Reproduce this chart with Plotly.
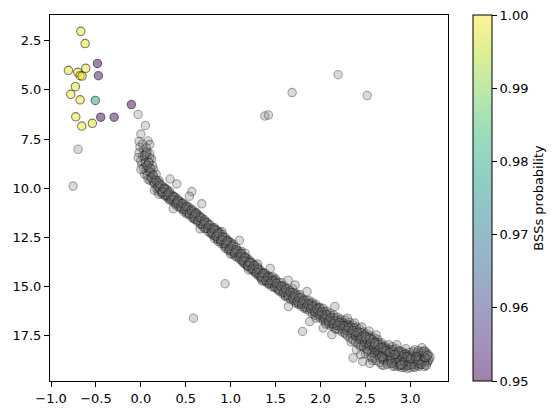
import plotly.graph_objects as go

# Blue straggler candidates (colour index, magnitude, probability)
bss_x = [-0.669, -0.621, -0.807, -0.703, -0.677, -0.655, -0.614, -0.729, -0.781,
         -0.677, -0.725, -0.658, -0.540, -0.484, -0.473, -0.106, -0.447, -0.298, -0.507]
bss_y = [2.03, 2.65, 4.01, 4.11, 4.28, 4.30, 3.91, 4.84, 5.23,
         5.51, 6.37, 6.84, 6.70, 3.66, 4.28, 5.75, 6.39, 6.39, 5.54]
bss_p = [0.999, 0.999, 0.998, 0.999, 1.0, 0.999, 0.999, 0.998, 0.999,
         0.999, 0.999, 0.999, 0.998, 0.951, 0.952, 0.951, 0.951, 0.952, 0.977]

# Cluster members (grey points)
members = [
    # turn-off region
    (0.05, 6.81), (0.00, 7.25), (-0.02, 7.62), (0.08, 7.60), (0.10, 7.78), (-0.01, 7.9), (0.03, 8.05),
    (-0.02, 8.2), (0.05, 8.28), (0.07, 8.4), (0.12, 8.52), (0.04, 8.55), (0.01, 8.78), (0.06, 8.85),
    (0.09, 8.7), (0.08, 9.0), (0.14, 9.03), (0.04, 9.28), (0.11, 9.2), (0.13, 9.35), (0.12, 9.45),
    (0.06, 9.1), (0.10, 9.6), (0.16, 9.55), (0.15, 9.75), (0.09, 8.95), (0.02, 8.35), (0.07, 8.15),
    (0.11, 9.5), (0.18, 9.7),
    (0.02, 7.75), (0.06, 7.95), (-0.03, 8.45), (0.1, 8.25), (0.0, 8.6), (0.13, 8.85), (0.03, 9.0),
    (0.07, 9.35), (0.17, 9.3), (0.14, 9.65), (0.08, 9.55), (0.2, 9.6), (0.05, 8.7), (0.1, 8.45), (0.0, 9.05),
    # upper main sequence
    (0.18, 9.85), (0.20, 9.95), (0.22, 10.05), (0.25, 10.1), (0.19, 10.15), (0.28, 10.2), (0.24, 10.3),
    (0.30, 10.25), (0.33, 10.35), (0.27, 10.4), (0.35, 10.5), (0.31, 10.55), (0.38, 10.6), (0.36, 10.7),
    (0.42, 10.65), (0.21, 9.9), (0.17, 10.0), (0.26, 9.95), (0.29, 10.1), (0.23, 10.25), (0.34, 10.45),
    (0.40, 10.75), (0.37, 10.45), (0.32, 10.6), (0.325, 9.53), (0.40, 9.78), (0.36, 11.04), (0.15, 10.1),
    (0.20, 10.3), (0.44, 10.8),
    (0.42, 10.85), (0.45, 10.8), (0.47, 10.9), (0.50, 11.0), (0.48, 11.1), (0.53, 11.05), (0.55, 11.15),
    (0.52, 11.25), (0.58, 11.3), (0.60, 11.25), (0.57, 11.4), (0.62, 11.45), (0.64, 11.5), (0.61, 11.6),
    (0.66, 11.65), (0.68, 11.7), (0.70, 11.8), (0.67, 11.85), (0.72, 11.9), (0.74, 11.95), (0.76, 12.0),
    (0.71, 12.05), (0.78, 12.1), (0.46, 11.0), (0.51, 11.2), (0.56, 11.2), (0.63, 11.35), (0.69, 11.6),
    (0.73, 11.75), (0.567, 10.17), (0.54, 10.4), (0.678, 10.79), (0.659, 12.06), (0.49, 10.95), (0.59, 11.55),
    (0.20, 9.7), (0.21, 10.05), (0.23, 9.85), (0.24, 10.2), (0.26, 10.0), (0.27, 10.35), (0.29, 10.05),
    (0.30, 10.45), (0.32, 10.15), (0.33, 10.5), (0.35, 10.35), (0.36, 10.6), (0.38, 10.45), (0.39, 10.85),
    (0.41, 10.55), (0.42, 10.95), (0.44, 10.7), (0.45, 11.05), (0.47, 10.75), (0.48, 11.2), (0.50, 10.85),
    (0.51, 11.3), (0.53, 10.95), (0.54, 11.35), (0.56, 11.05), (0.57, 11.5), (0.59, 11.15), (0.60, 11.55),
    (0.62, 11.25), (0.63, 11.7), (0.65, 11.4), (0.66, 11.8), (0.68, 11.5), (0.69, 11.95), (0.71, 11.6),
    (0.72, 12.05), (0.74, 11.75), (0.75, 12.2), (0.77, 11.85), (0.78, 12.25), (0.80, 12.0),
    (0.30, 10.3), (0.40, 10.7), (0.50, 11.0), (0.60, 11.35), (0.70, 11.75),
    (0.79, 12.05), (0.80, 12.2), (0.82, 12.15), (0.84, 12.3), (0.81, 12.4), (0.86, 12.35), (0.88, 12.5),
    (0.85, 12.6), (0.90, 12.55), (0.92, 12.7), (0.89, 12.8), (0.94, 12.75), (0.96, 12.85), (0.93, 12.95),
    (0.98, 12.9), (1.00, 13.0), (0.97, 13.1), (1.02, 13.1), (1.04, 13.2), (1.01, 13.3), (1.06, 13.25),
    (1.08, 13.35), (1.05, 13.45), (1.10, 13.4), (0.83, 12.1), (0.87, 12.25), (0.91, 12.45), (0.95, 12.6),
    (0.99, 12.75), (1.03, 12.95), (1.07, 13.15), (0.78, 12.3), (0.86, 12.7), (0.94, 13.05), (1.0, 13.35),
    (1.097, 12.65), (0.9, 12.2), (1.12, 13.2), (0.82, 12.55), (0.97, 12.7),
    # middle main sequence
    (0.80, 12.35), (0.82, 12.0), (0.83, 12.45), (0.85, 12.15), (0.86, 12.55), (0.88, 12.25), (0.89, 12.7),
    (0.91, 12.35), (0.92, 12.8), (0.94, 12.5), (0.95, 12.95), (0.97, 12.65), (0.98, 13.15), (1.00, 12.75),
    (1.01, 13.2), (1.03, 12.85), (1.04, 13.35), (1.06, 13.0), (1.07, 13.5), (1.09, 13.2), (1.10, 13.6),
    (1.12, 13.3), (1.13, 13.75), (1.15, 13.45), (1.16, 13.85), (1.18, 13.55), (1.19, 14.0), (1.21, 13.65),
    (1.22, 14.1), (1.24, 13.8), (1.25, 14.2), (1.27, 13.9), (1.28, 14.35), (1.30, 14.05), (1.31, 14.45),
    (1.33, 14.15), (1.34, 14.6), (1.36, 14.3), (1.37, 14.7), (1.39, 14.4), (1.40, 14.8), (1.42, 14.45),
    (1.43, 14.9), (1.45, 14.55), (1.46, 15.0), (1.48, 14.65), (1.49, 15.05),
    (0.85, 12.35), (0.95, 12.75), (1.05, 13.2), (1.15, 13.6), (1.25, 14.0), (1.35, 14.4), (1.45, 14.75), (0.9, 12.6),
    (1.11, 13.5), (1.13, 13.45), (1.14, 13.6), (1.16, 13.55), (1.17, 13.7), (1.15, 13.8), (1.19, 13.75),
    (1.21, 13.85), (1.2, 13.95), (1.23, 14.0), (1.25, 13.95), (1.24, 14.1), (1.27, 14.15), (1.29, 14.1),
    (1.28, 14.25), (1.31, 14.3), (1.33, 14.25), (1.32, 14.4), (1.35, 14.45), (1.37, 14.4), (1.36, 14.55),
    (1.39, 14.6), (1.41, 14.55), (1.40, 14.7), (1.43, 14.75), (1.45, 14.7), (1.12, 13.65), (1.18, 13.9),
    (1.22, 13.75), (1.26, 14.2), (1.30, 14.0), (1.34, 14.55), (1.38, 14.3), (1.42, 14.85), (1.44, 14.07),
    (1.16, 13.3), (1.3, 13.85), (1.2, 14.15), (1.47, 14.5), (1.35, 14.7),
    (1.46, 14.8), (1.48, 14.75), (1.5, 14.85), (1.52, 14.9), (1.51, 15.0), (1.54, 14.95), (1.56, 15.05),
    (1.55, 15.15), (1.58, 15.1), (1.6, 15.2), (1.59, 15.3), (1.62, 15.25), (1.64, 15.3), (1.63, 15.4),
    (1.66, 15.35), (1.68, 15.45), (1.67, 15.55), (1.7, 15.5), (1.72, 15.55), (1.71, 15.65), (1.74, 15.6),
    (1.76, 15.7), (1.75, 15.8), (1.78, 15.75), (1.8, 15.8), (1.79, 15.9), (1.82, 15.85), (1.84, 15.9),
    (1.5, 14.6), (1.57, 14.8), (1.64, 14.67), (1.69, 15.1), (1.717, 14.92), (1.77, 15.4), (1.85, 15.25),
    (1.53, 15.2), (1.61, 15.5), (1.643, 16.01), (1.73, 15.85), (1.83, 16.05),
    (1.50, 14.7), (1.52, 15.1), (1.54, 14.8), (1.55, 15.25), (1.57, 14.95), (1.58, 15.35), (1.60, 15.0),
    (1.61, 15.45), (1.63, 15.1), (1.64, 15.55), (1.66, 15.2), (1.67, 15.65), (1.69, 15.3), (1.70, 15.7),
    (1.72, 15.35), (1.73, 15.8), (1.75, 15.45), (1.76, 15.9), (1.78, 15.55), (1.79, 16.0), (1.81, 15.65),
    (1.82, 16.1), (1.84, 15.7), (1.85, 16.15), (1.87, 15.8), (1.88, 16.25), (1.90, 15.85), (1.91, 16.35),
    (1.93, 15.95), (1.94, 16.45), (1.96, 16.05), (1.97, 16.5), (1.99, 16.1), (2.00, 16.6), (2.02, 16.2),
    (2.03, 16.7), (2.05, 16.3), (2.06, 16.8), (2.08, 16.4), (2.09, 16.9), (2.11, 16.45), (2.12, 17.0),
    (2.14, 16.55), (2.15, 17.05), (2.17, 16.6), (2.18, 17.15), (2.20, 16.7), (2.21, 17.2), (2.23, 16.75),
    (2.24, 17.3), (2.26, 16.85), (2.27, 17.35), (2.29, 16.9),
    (1.6, 15.2), (1.7, 15.5), (1.8, 15.8), (1.9, 16.05), (2.0, 16.35), (2.1, 16.65), (2.2, 16.9),
    (1.86, 15.95), (1.88, 15.9), (1.9, 16.0), (1.89, 16.1), (1.92, 16.05), (1.94, 16.15), (1.93, 16.25),
    (1.96, 16.2), (1.98, 16.3), (1.97, 16.4), (2.0, 16.35), (2.02, 16.4), (2.01, 16.5), (2.04, 16.45),
    (2.06, 16.55), (2.05, 16.65), (2.08, 16.6), (2.1, 16.7), (2.09, 16.8), (2.12, 16.75), (2.14, 16.8),
    (2.13, 16.9), (2.16, 16.85), (2.18, 16.95), (2.2, 16.9), (2.22, 17.0), (2.24, 16.95), (1.87, 15.7),
    (1.91, 15.8), (1.95, 15.9), (1.99, 16.05), (2.03, 16.1), (2.07, 16.25), (2.11, 16.35), (2.15, 16.45),
    (2.19, 16.55), (2.23, 16.65), (1.88, 16.77), (1.80, 17.27), (2.126, 17.44), (2.03, 17.1), (1.95, 16.6),
    (2.06, 16.9), (2.17, 17.15), (2.16, 16.0),
    # lower main sequence
    (2.25, 16.85), (2.27, 16.95), (2.26, 17.05), (2.29, 17.0), (2.31, 17.1), (2.3, 17.2), (2.33, 17.15),
    (2.35, 17.25), (2.34, 17.35), (2.37, 17.3), (2.39, 17.4), (2.38, 17.5), (2.41, 17.45), (2.43, 17.55),
    (2.42, 17.65), (2.45, 17.6), (2.47, 17.7), (2.46, 17.8), (2.49, 17.75), (2.51, 17.85), (2.5, 17.95),
    (2.53, 17.9), (2.55, 17.95), (2.54, 18.05), (2.57, 18.0), (2.59, 18.1), (2.58, 18.2), (2.61, 18.15),
    (2.63, 18.2), (2.62, 18.3), (2.65, 18.25), (2.67, 18.35), (2.66, 18.45), (2.69, 18.4),
    (2.28, 16.7), (2.32, 16.8), (2.36, 16.95), (2.4, 17.05), (2.44, 17.15), (2.48, 17.3), (2.52, 17.4),
    (2.56, 17.5), (2.6, 17.6), (2.64, 17.7), (2.68, 17.85), (2.3, 16.6), (2.38, 16.85), (2.46, 17.05),
    (2.54, 17.25), (2.62, 17.45),
    (2.28, 17.4), (2.363, 18.62), (2.47, 18.79), (2.4, 18.2), (2.34, 17.8), (2.5, 18.4), (2.56, 18.55),
    (2.44, 18.0), (2.6, 18.65), (2.68, 18.96), (2.52, 18.2),
    (2.30, 17.5), (2.31, 16.95), (2.33, 17.6), (2.34, 17.05), (2.36, 17.7), (2.37, 17.1), (2.39, 17.8),
    (2.40, 17.2), (2.42, 17.9), (2.43, 17.3), (2.45, 18.0), (2.46, 17.35), (2.48, 18.05), (2.49, 17.45),
    (2.51, 18.15), (2.52, 17.55), (2.54, 18.25), (2.55, 17.6), (2.57, 18.35), (2.58, 17.7), (2.60, 18.4),
    (2.61, 17.8), (2.63, 18.5), (2.64, 17.85), (2.66, 18.6), (2.67, 17.95), (2.69, 18.7), (2.70, 18.05),
    (2.72, 18.75), (2.73, 18.1), (2.75, 18.8), (2.76, 18.2), (2.78, 18.85), (2.79, 18.3), (2.81, 18.9),
    (2.82, 18.35), (2.84, 18.95), (2.85, 18.45), (2.87, 19.0), (2.88, 18.5), (2.90, 18.6), (2.91, 18.3),
    (2.93, 18.7), (2.94, 18.4), (2.96, 18.75), (2.97, 18.5), (2.99, 18.8), (3.00, 18.55), (3.02, 18.9),
    (3.03, 18.6), (3.05, 18.95), (3.06, 18.6), (3.08, 19.0), (3.09, 18.55), (3.11, 18.95), (3.13, 18.5),
    (3.15, 18.9), (3.17, 18.45), (3.19, 18.85), (3.21, 18.7),
    (2.35, 17.3), (2.45, 17.6), (2.55, 17.9), (2.65, 18.15), (2.75, 18.4), (2.85, 18.6), (2.95, 18.7),
    (3.05, 18.75), (2.6, 18.0), (2.7, 18.25), (2.8, 18.5), (2.9, 18.65), (3.0, 18.75), (3.1, 18.8),
    (2.58, 18.75), (2.7, 19.0), (2.93, 19.1), (3.16, 19.05), (2.45, 18.45), (2.55, 18.9),
    (2.7, 18.3), (2.72, 18.45), (2.71, 18.55), (2.74, 18.4), (2.76, 18.5), (2.75, 18.6), (2.78, 18.55),
    (2.8, 18.65), (2.79, 18.75), (2.82, 18.6), (2.84, 18.7), (2.83, 18.8), (2.86, 18.75), (2.88, 18.85),
    (2.87, 18.95), (2.9, 18.8), (2.92, 18.9), (2.91, 19.0), (2.94, 18.85), (2.96, 18.95), (2.95, 19.05),
    (2.98, 18.9), (3.0, 19.0), (2.99, 18.75), (3.02, 18.85), (3.04, 18.95), (3.03, 18.7), (3.06, 18.8),
    (3.08, 18.9), (3.07, 18.65), (3.1, 18.75), (3.12, 18.85), (3.11, 18.6), (3.14, 18.7), (3.16, 18.8),
    (3.15, 18.55), (3.18, 18.65), (3.2, 18.75), (3.22, 18.57), (3.165, 18.96),
    (2.72, 18.0), (2.74, 18.15), (2.76, 17.95), (2.78, 18.2), (2.8, 18.05), (2.82, 18.3), (2.84, 18.15),
    (2.86, 18.4), (2.88, 18.25), (2.9, 18.5), (2.92, 18.35), (2.94, 18.55), (2.96, 18.45), (2.98, 18.6),
    (3.0, 18.5), (3.02, 18.55), (3.04, 18.4), (3.06, 18.5), (3.08, 18.35), (3.1, 18.45), (3.12, 18.3),
    (3.14, 18.4), (3.16, 18.25), (3.18, 18.35), (3.05, 18.2), (2.95, 18.15), (2.85, 17.95), (3.2, 18.45),
    (3.13, 18.1),
    (2.75, 18.9), (2.82, 19.0), (2.9, 19.1), (2.97, 19.15), (3.05, 19.1), (3.1, 19.05), (2.86, 19.05),
    (3.0, 19.1),
    # sequence core
    (0.04, 8.35), (0.06, 8.22), (0.07, 8.85), (0.09, 8.7), (0.1, 9.18), (0.11, 9.0), (0.12, 9.48),
    (0.14, 9.33), (0.15, 9.72), (0.17, 9.6), (0.19, 9.93), (0.21, 9.8), (0.24, 10.18), (0.26, 10.03),
    (0.29, 10.35), (0.31, 10.22), (0.34, 10.58), (0.36, 10.43), (0.39, 10.78), (0.41, 10.63), (0.44, 10.93),
    (0.46, 10.78), (0.49, 11.08), (0.51, 10.93), (0.54, 11.28), (0.56, 11.12), (0.59, 11.43), (0.61, 11.28),
    (0.64, 11.63), (0.66, 11.48), (0.69, 11.83), (0.71, 11.68), (0.74, 12.03), (0.76, 11.88), (0.79, 12.23),
    (0.81, 12.08), (0.84, 12.43), (0.86, 12.28), (0.89, 12.63), (0.91, 12.48), (0.94, 12.83), (0.96, 12.68),
    (0.99, 13.08), (1.01, 12.92), (1.04, 13.28), (1.06, 13.12), (1.09, 13.48), (1.11, 13.32), (1.14, 13.68),
    (1.16, 13.52), (1.19, 13.93), (1.21, 13.78), (1.24, 14.08), (1.26, 13.93), (1.29, 14.28), (1.31, 14.12),
    (1.34, 14.48), (1.36, 14.32), (1.39, 14.68), (1.41, 14.52), (1.44, 14.83), (1.46, 14.68), (1.49, 14.98),
    (1.51, 14.83), (1.54, 15.13), (1.56, 14.98), (1.59, 15.28), (1.61, 15.12), (1.64, 15.43), (1.66, 15.28),
    (1.69, 15.58), (1.71, 15.42), (1.74, 15.73), (1.76, 15.58), (1.79, 15.88), (1.81, 15.72), (1.84, 16.03),
    (1.86, 15.88), (1.89, 16.13), (1.91, 15.98), (1.94, 16.28), (1.96, 16.12), (1.99, 16.43), (2.01, 16.28),
    (2.04, 16.58), (2.06, 16.42), (2.09, 16.73), (2.11, 16.58), (2.14, 16.88), (2.16, 16.72), (2.19, 16.98),
    (2.21, 16.82), (2.24, 17.13), (2.26, 16.98), (2.29, 17.23), (2.31, 17.08), (2.34, 17.38), (2.36, 17.22),
    (2.39, 17.48), (2.41, 17.33), (2.44, 17.68), (2.46, 17.52), (2.49, 17.83), (2.51, 17.68), (2.54, 17.98),
    (2.56, 17.82), (2.59, 18.08), (2.61, 17.93), (2.64, 18.23), (2.66, 18.08), (2.69, 18.33), (2.71, 18.18),
    (2.74, 18.48), (2.76, 18.32), (2.79, 18.58), (2.81, 18.43), (2.84, 18.68), (2.86, 18.52), (2.89, 18.73),
    (2.91, 18.58), (2.94, 18.78), (2.96, 18.62), (2.99, 18.83), (3.01, 18.68), (3.04, 18.83), (3.06, 18.68),
    (3.09, 18.88), (3.11, 18.72), (3.14, 18.78), (3.16, 18.62),
    (2.52, 18.3), (2.57, 18.6), (2.62, 18.75), (2.66, 18.85), (2.7, 18.65), (2.74, 18.95), (2.78, 18.7),
    (2.81, 19.05), (2.85, 18.85), (2.89, 19.0), (2.93, 18.8), (2.97, 19.0), (3.01, 18.95), (3.04, 19.05),
    (3.08, 18.75), (3.12, 18.95), (3.17, 18.6), (3.19, 18.5), (2.64, 17.95), (2.69, 18.1), (2.73, 18.25),
    (2.77, 18.35), (2.81, 18.2), (2.87, 18.3), (2.93, 18.45), (2.99, 18.35), (3.03, 18.3), (3.09, 18.25),
    (3.15, 18.3), (2.55, 17.65), (2.6, 17.85), (2.5, 17.55), (2.83, 18.45), (2.97, 18.55), (3.07, 18.55),
    (3.0, 18.65), (2.9, 18.95), (2.79, 18.9), (2.68, 18.55), (3.18, 19.0),
    # isolated stars
    (-0.70, 8.02), (-0.755, 9.89), (-0.031, 6.25), (2.196, 4.23), (1.684, 5.14), (2.52, 5.29),
    (1.38, 6.33), (1.42, 6.28), (0.938, 14.85), (0.585, 16.6),
]
member_x = [p[0] for p in members]
member_y = [p[1] for p in members]

x_ticks = [-1.0, -0.5, 0.0, 0.5, 1.0, 1.5, 2.0, 2.5, 3.0]
y_ticks = [2.5, 5.0, 7.5, 10.0, 12.5, 15.0, 17.5]
cbar_ticks = [0.95, 0.96, 0.97, 0.98, 0.99, 1.00]

viridis = [(68, 1, 84), (72, 40, 120), (62, 74, 137), (49, 104, 142), (38, 130, 142),
           (31, 158, 137), (53, 183, 121), (110, 206, 88), (181, 222, 43), (253, 231, 37)]
colorscale = [[i / (len(viridis) - 1), "rgba(%d,%d,%d,0.5)" % c] for i, c in enumerate(viridis)]

FONT = "DejaVu Sans"

fig = go.Figure()
fig.add_trace(go.Scatter(
    x=member_x, y=member_y, mode="markers",
    marker=dict(size=8.4, color="rgba(128,128,128,0.3)",
                line=dict(color="rgba(0,0,0,0.33)", width=1.1)),
    showlegend=False, hoverinfo="skip",
))
fig.add_trace(go.Scatter(
    x=bss_x, y=bss_y, mode="markers",
    marker=dict(size=8.4, color=bss_p, colorscale=colorscale, cmin=0.95, cmax=1.0,
                line=dict(color="rgba(0,0,0,0.5)", width=1.1),
                colorbar=dict(
                    x=1.062, xanchor="left", xpad=0, ypad=0,
                    y=0.5, yanchor="middle", len=1.0, lenmode="fraction",
                    thickness=19, outlinecolor="black", outlinewidth=1,
                    tickvals=cbar_ticks, tickformat=".2f", ticks="outside",
                    ticklen=5, tickwidth=1, tickcolor="black",
                    tickfont=dict(family=FONT, size=13, color="black"),
                    title=dict(text="BSSs probability", side="right",
                               font=dict(family=FONT, size=13, color="black")),
                )),
    showlegend=False,
))

axis_common = dict(showline=True, mirror=True, linecolor="black", linewidth=1,
                   ticks="outside", ticklen=5, tickwidth=1, tickcolor="black",
                   showgrid=False, zeroline=False,
                   tickfont=dict(family=FONT, size=13, color="black"))
fig.update_xaxes(range=[-1.012, 3.42], tickvals=x_ticks, tickformat=".1f", **axis_common)
fig.update_yaxes(range=[19.79, 1.2], tickvals=y_ticks, tickformat=".1f", **axis_common)

fig.update_layout(
    width=560, height=418,
    margin=dict(l=50, r=112, t=15, b=35, pad=0),
    paper_bgcolor="white", plot_bgcolor="white",
    font=dict(family=FONT, size=13, color="black"),
)
fig.write_html("out.html")
